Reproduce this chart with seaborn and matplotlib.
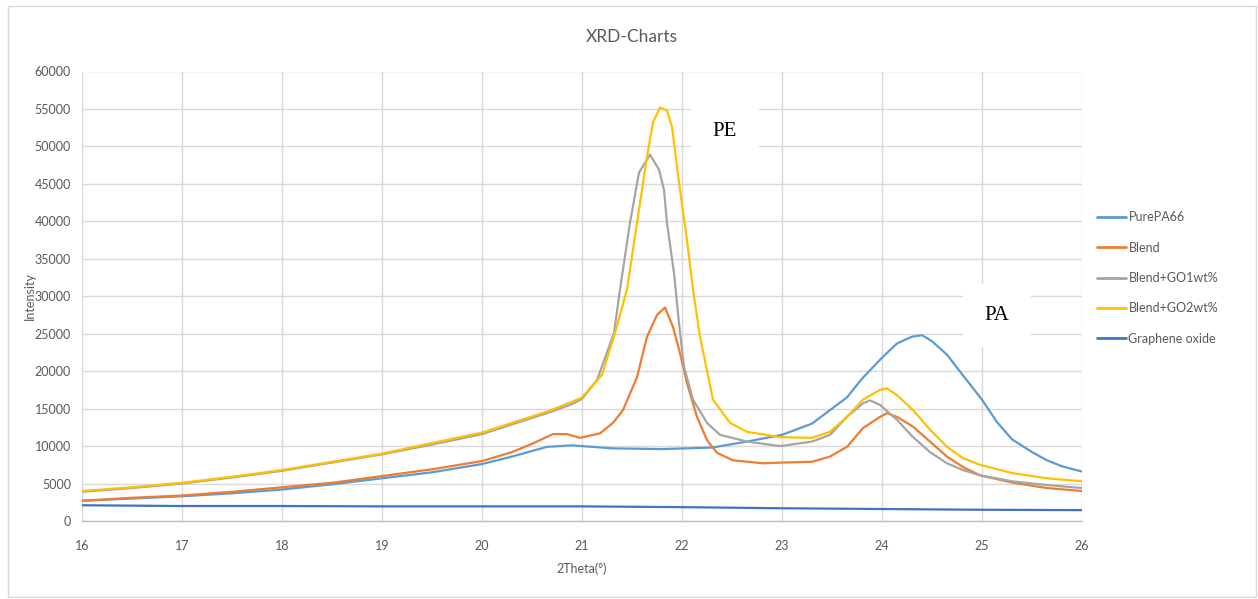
import matplotlib
matplotlib.use("Agg")
import matplotlib.pyplot as plt
from matplotlib.patches import Rectangle
import seaborn as sns
import pandas as pd

# ---------------- data ----------------
series_names = ["PurePA66", "Blend", "Blend+GO1wt%", "Blend+GO2wt%", "Graphene oxide"]
series_colors = ["#5B9BD5", "#ED7D31", "#A5A5A5", "#FFC000", "#4472C4"]

x_pa66 = [16, 16.5, 17, 17.5, 18, 18.5, 19, 19.5, 20, 20.3,
          20.65, 20.9, 21.3, 21.8, 22.3, 22.65, 23.0, 23.3, 23.65, 23.8,
          24.0, 24.15, 24.3, 24.4, 24.5, 24.65, 24.8, 25.0, 25.15, 25.3,
          25.5, 25.65, 25.8, 26.0]
y_pa66 = [2700, 3000, 3300, 3700, 4200, 4900, 5700, 6500, 7600, 8600,
          9900, 10100, 9700, 9600, 9800, 10600, 11500, 13000, 16500, 19000,
          21800, 23700, 24600, 24800, 24000, 22200, 19600, 16200, 13200, 10900,
          9200, 8100, 7300, 6600]

x_blend = [16, 16.5, 17, 17.5, 18, 18.5, 19, 19.5, 20, 20.3,
           20.5, 20.71, 20.85, 20.98, 21.18, 21.31, 21.41, 21.55, 21.65, 21.75,
           21.83, 21.91, 21.98, 22.05, 22.15, 22.25, 22.35, 22.51, 22.81, 23.0,
           23.3, 23.48, 23.65, 23.81, 23.98, 24.05, 24.15, 24.31, 24.48, 24.65,
           24.81, 24.98, 25.31, 25.65, 26.0]
y_blend = [2700, 3100, 3400, 3900, 4500, 5100, 6000, 6900, 8000, 9200,
           10300, 11600, 11600, 11100, 11700, 13100, 14800, 19200, 24600, 27500,
           28500, 25900, 22400, 18400, 13900, 10800, 9100, 8100, 7700, 7800,
           7900, 8600, 9900, 12400, 13900, 14400, 13900, 12600, 10600, 8600,
           7200, 6100, 5100, 4400, 4000]

x_go1 = [16, 16.5, 17, 17.5, 18, 18.5, 19, 19.5, 20, 20.3,
         20.65, 20.9, 21.0, 21.15, 21.32, 21.38, 21.48, 21.57, 21.68, 21.77,
         21.82, 21.85, 21.92, 21.97, 22.02, 22.11, 22.25, 22.38, 22.65, 22.98,
         23.3, 23.48, 23.65, 23.81, 23.88, 23.98, 24.15, 24.31, 24.48, 24.65,
         24.81, 24.98, 25.3, 25.65, 26.0]
y_go1 = [3900, 4400, 5000, 5800, 6700, 7800, 8900, 10200, 11600, 12900,
         14400, 15600, 16300, 18800, 25100, 30900, 39800, 46500, 48900, 46900,
         44200, 39800, 33100, 26400, 20600, 16200, 13100, 11500, 10600, 10000,
         10600, 11500, 13900, 15700, 16100, 15500, 13500, 11200, 9200, 7700,
         6800, 6100, 5300, 4800, 4400]

x_go2 = [16, 16.5, 17, 17.5, 18, 18.5, 19, 19.5, 20, 20.3,
         20.65, 20.9, 21.0, 21.2, 21.33, 21.45, 21.55, 21.65, 21.71, 21.78,
         21.85, 21.9, 21.98, 22.05, 22.11, 22.18, 22.31, 22.48, 22.65, 22.98,
         23.3, 23.48, 23.65, 23.81, 23.98, 24.05, 24.15, 24.31, 24.48, 24.65,
         24.81, 24.98, 25.3, 25.65, 26.0]
y_go2 = [4000, 4500, 5100, 5900, 6800, 7900, 9000, 10400, 11800, 13100,
         14600, 15900, 16500, 19500, 25100, 30900, 39800, 48600, 53200, 55200,
         54800, 52600, 44200, 37500, 30900, 24600, 16200, 13100, 11900, 11200,
         11100, 11900, 13900, 16200, 17500, 17700, 16800, 14800, 12200, 9900,
         8400, 7500, 6400, 5700, 5300]

x_go = [16, 17, 18, 19, 20, 21, 22, 23, 24, 25, 26]
y_go = [2100, 2000, 2000, 1950, 1950, 1950, 1850, 1700, 1600, 1500, 1450]

x_ticks = [16, 17, 18, 19, 20, 21, 22, 23, 24, 25, 26]
y_ticks = [0, 5000, 10000, 15000, 20000, 25000, 30000, 35000, 40000, 45000, 50000, 55000, 60000]

title_text = "XRD-Charts"
x_label = "2Theta(°)"
y_label = "Intensity"
annotations = [("PE", 22.43, 52000), ("PA", 25.15, 27400)]

# ---------------- build table ----------------
frames = []
for name, xs, ys in zip(series_names,
                        [x_pa66, x_blend, x_go1, x_go2, x_go],
                        [y_pa66, y_blend, y_go1, y_go2, y_go]):
    frames.append(pd.DataFrame({"x": xs, "y": ys, "series": name}))
df = pd.concat(frames, ignore_index=True)

# ---------------- style ----------------
sns.set_style("white")
plt.rcParams["font.family"] = ["Lato", "DejaVu Sans"]
text_color = "#595959"

fig = plt.figure(figsize=(12.58, 5.99), dpi=100)
ax = fig.add_axes([82 / 1258, 1 - 521 / 599, 1000 / 1258, 449.5 / 599])

sns.lineplot(data=df, x="x", y="y", hue="series", hue_order=series_names,
             palette=dict(zip(series_names, series_colors)),
             sort=False, estimator=None, linewidth=1.6, ax=ax)

ax.set_xlim(16, 26)
ax.set_ylim(0, 60000)
ax.set_xticks(x_ticks)
ax.set_yticks(y_ticks)
ax.set_xticklabels([str(t) for t in x_ticks])
ax.set_yticklabels([str(t) for t in y_ticks])
ax.grid(True, color="#D9D9D9", linewidth=1.0)
ax.set_axisbelow(True)
for s in ["top", "right", "left"]:
    ax.spines[s].set_visible(False)
ax.spines["bottom"].set_color("#BFBFBF")
ax.spines["bottom"].set_linewidth(1.0)
ax.tick_params(axis="both", length=0, colors=text_color, labelsize=9)
ax.tick_params(axis="x", pad=14)
ax.tick_params(axis="y", pad=8)

ax.set_xlabel(x_label, color=text_color, fontsize=9, labelpad=7)
ax.set_ylabel(y_label, color=text_color, fontsize=9, labelpad=-1)

fig.text(632 / 1258, 1 - 37 / 599, title_text, ha="center", va="center",
         color=text_color, fontsize=12.5)

for label, ax_x, ax_y in annotations:
    ax.text(ax_x, ax_y, label, ha="center", va="center", fontsize=15,
            family=["Liberation Serif", "DejaVu Serif"], color="black",
            bbox=dict(boxstyle="square,pad=1.05", facecolor="white", edgecolor="none"),
            zorder=5)

handles, labels = ax.get_legend_handles_labels()
leg = ax.legend(handles, labels, loc="upper left",
                bbox_to_anchor=(1086 / 1258, 1 - 200 / 599),
                bbox_transform=fig.transFigure, frameon=False,
                fontsize=9, handlelength=2.3, handletextpad=0.2,
                labelspacing=1.47)
for t in leg.get_texts():
    t.set_color(text_color)
for h in leg.get_lines():
    h.set_linewidth(2.0)

fig.patches.append(Rectangle((8 / 1258, 2 / 599), 1248 / 1258, 591 / 599,
                             transform=fig.transFigure, fill=False,
                             edgecolor="#D9D9D9", linewidth=1.0))

fig.savefig("out.png", dpi=100, facecolor="white")
